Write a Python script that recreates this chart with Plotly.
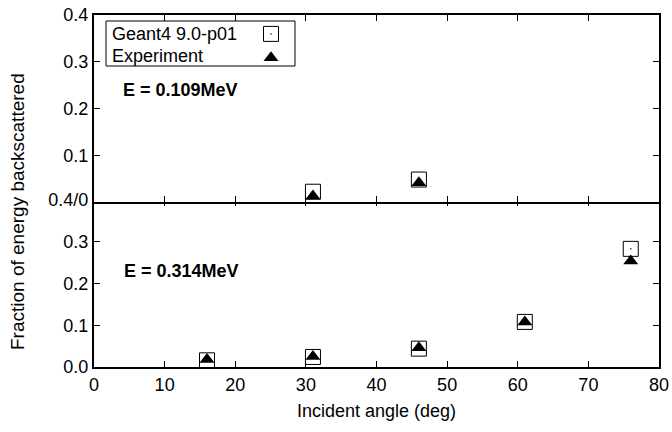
import plotly.graph_objects as go

# ---- data ----
angles_low = [31, 46]                       # E = 0.109 MeV
geant_low = [0.022, 0.048]
exp_low = [0.013, 0.041]

angles_high = [16, 31, 46, 61, 76]          # E = 0.314 MeV
geant_high = [0.016, 0.024, 0.044, 0.108, 0.283]
exp_high = [0.018, 0.025, 0.046, 0.108, 0.254]

x_ticks = [0, 10, 20, 30, 40, 50, 60, 70, 80]
y_top_vals = [0.1, 0.2, 0.3, 0.4]
y_top_text = ["0.1", "0.2", "0.3", "0.4"]
y_bot_vals = [0.0, 0.1, 0.2, 0.3, 0.4]
y_bot_text = ["0.0", "0.1", "0.2", "0.3", "0.4/0"]

FONT = "Liberation Sans, Arial, Helvetica, sans-serif"
FS = 18
W, H = 672, 432
L, R, T, B = 94, 13, 15, 65
PW, PH = W - L - R, H - T - B
LW = 2


def px(x):
    return (x - L) / PW


def py(y):
    return (H - B - y) / PH


split = py(200)

sq = dict(symbol="square-open-dot", size=15, color="black", line=dict(width=1, color="black"))
tri = dict(symbol="triangle-up", size=13, color="black", line=dict(width=0))

fig = go.Figure()
fig.add_trace(go.Scatter(x=angles_low, y=geant_low, mode="markers", marker=sq,
                         name="", xaxis="x2", yaxis="y2", showlegend=True, legendrank=1))
fig.add_trace(go.Scatter(x=angles_low, y=exp_low, mode="markers", marker=tri,
                         name="", xaxis="x2", yaxis="y2", showlegend=True, legendrank=2))
fig.add_trace(go.Scatter(x=angles_high, y=geant_high, mode="markers", marker=sq,
                         xaxis="x", yaxis="y", showlegend=False))
fig.add_trace(go.Scatter(x=angles_high, y=exp_high, mode="markers", marker=tri,
                         xaxis="x", yaxis="y", showlegend=False))

axis_common = dict(showline=True, linecolor="black", linewidth=LW, mirror="ticks",
                   ticks="inside", ticklen=6, tickwidth=1, tickcolor="black",
                   showgrid=False, zeroline=False, automargin=False,
                   tickfont=dict(family=FONT, size=FS, color="black"))

fig.update_layout(
    width=W, height=H,
    margin=dict(l=L, r=R, t=T, b=B, autoexpand=False),
    paper_bgcolor="white", plot_bgcolor="white",
    font=dict(family=FONT, size=FS, color="black"),
    xaxis=dict(range=[0, 80], tickvals=x_ticks, anchor="y", domain=[0, 1], **axis_common),
    xaxis2=dict(range=[0, 80], tickvals=x_ticks, anchor="y2", domain=[0, 1],
                matches="x", showticklabels=False, **axis_common),
    yaxis=dict(range=[0, 0.4], tickvals=y_bot_vals, ticktext=y_bot_text,
               domain=[0, split], anchor="x", **axis_common),
    yaxis2=dict(range=[0, 0.4], tickvals=y_top_vals, ticktext=y_top_text,
                domain=[split - LW / PH, 1], anchor="x2", **axis_common),
    legend=dict(x=px(251), y=py(17), xanchor="left", yanchor="top",
                bgcolor="rgba(0,0,0,0)", borderwidth=0,
                font=dict(family=FONT, size=16), tracegroupgap=0,
                itemwidth=30),
    shapes=[dict(type="rect", xref="paper", yref="paper",
                 x0=px(106), x1=px(295), y0=py(66), y1=py(21),
                 line=dict(color="black", width=1))],
    annotations=[
        dict(text="Geant4 9.0-p01", x=px(110), y=py(34), xref="paper", yref="paper",
             xanchor="left", yanchor="middle", showarrow=False, font=dict(size=FS)),
        dict(text="Experiment", x=px(110), y=py(56), xref="paper", yref="paper",
             xanchor="left", yanchor="middle", showarrow=False, font=dict(size=FS)),
        dict(text="<b>E = 0.109MeV</b>", x=px(121), y=py(90), xref="paper", yref="paper",
             xanchor="left", yanchor="middle", showarrow=False, font=dict(size=FS)),
        dict(text="<b>E = 0.314MeV</b>", x=px(122), y=py(271), xref="paper", yref="paper",
             xanchor="left", yanchor="middle", showarrow=False, font=dict(size=FS)),
        dict(text="Fraction of energy backscattered", x=px(18), y=py(212),
             xref="paper", yref="paper", xanchor="center", yanchor="middle",
             textangle=-90, showarrow=False, font=dict(size=19)),
        dict(text="Incident angle (deg)", x=px(376), y=py(411),
             xref="paper", yref="paper", xanchor="center", yanchor="middle",
             showarrow=False, font=dict(size=FS)),
    ],
)

fig.write_html("out.html")
